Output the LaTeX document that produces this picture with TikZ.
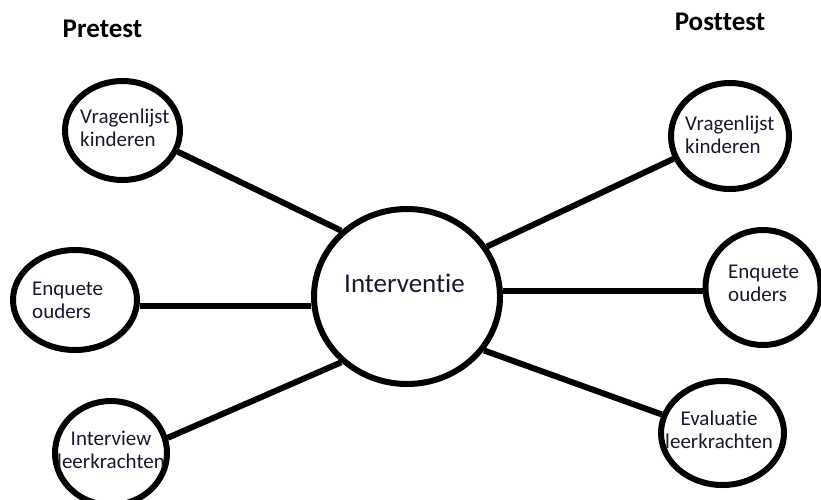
\documentclass[tikz,border=0pt]{standalone}
\usepackage{fontspec}
\setmainfont{Carlito}[Ligatures={NoCommon,NoContextual}]
\usetikzlibrary{shapes.geometric}
\definecolor{txt}{RGB}{25,25,45}
\newcommand{\twolines}[3]{\begin{tabular}[t]{@{}#1@{}}#2\\#3\end{tabular}}
\tikzset{
  bubble/.style={draw=black, line width=6pt, ellipse, inner sep=0pt, fill=white},
  link/.style={draw=black, line width=6pt},
  small/.style={inner sep=0pt, text=txt, font=\fontsize{21}{23.5}\selectfont},
  big/.style={inner sep=0pt, text=txt, font=\fontsize{27}{32}\selectfont},
  title/.style={inner sep=0pt, text=black, font=\fontsize{27}{32}\selectfont\bfseries}
}
\begin{document}
\begin{tikzpicture}[x=1pt,y=-1pt]
\useasboundingbox[fill=white] (0,0) rectangle (821,499);
% bubbles
\node[bubble, minimum width=186pt, minimum height=175pt] (c)  at (407,296.5) {};
\node[bubble, minimum width=115pt, minimum height=99pt]  (tl) at (122.5,130.5) {};
\node[bubble, minimum width=124pt, minimum height=100pt] (ml) at (75,300) {};
\node[bubble, minimum width=112pt, minimum height=104pt] (bl) at (111,453) {};
\node[bubble, minimum width=118pt, minimum height=106pt] (tr) at (730,136) {};
\node[bubble, minimum width=115pt, minimum height=115pt] (mr) at (763,287.5) {};
\node[bubble, minimum width=123pt, minimum height=104pt] (br) at (722.5,433) {};
% connectors
\draw[link] (tl.-21) -- (c.135);
\draw[link] (ml.-5) -- (ml.-5 -| c.west);
\draw[link] (bl.15.7) -- (c.225);
\draw[link] (tr.202.8) -- (c.32.5);
\draw[link] (c.3) -- (c.3 -| mr.west);
\draw[link] (br.163) -- (c.-35.4);
% texts
\node[title, anchor=base] (pre)  at (102.5,37) {Pretest};
\node[title, anchor=base] (post) at (720,30) {Posttest};
\node[big, anchor=base] (ct) at (404.5,292) {Interventie};
\node[small, anchor=base west] (tlt) at (80,123) {\twolines{l}{Vragenlijst}{kinderen}};
\node[small, anchor=base west] (mlt) at (32,295) {\twolines{l}{Enquete}{ouders}};
\node[small, anchor=base] (blt) at (111,445) {\twolines{c}{Interview}{leerkrachten}};
\node[small, anchor=base west] (trt) at (685,130) {\twolines{l}{Vragenlijst}{kinderen}};
\node[small, anchor=base west] (mrt) at (728,278) {\twolines{l}{Enquete}{ouders}};
\node[small, anchor=base] (brt) at (719,425) {\twolines{c}{Evaluatie}{leerkrachten}};
\end{tikzpicture}
\end{document}
